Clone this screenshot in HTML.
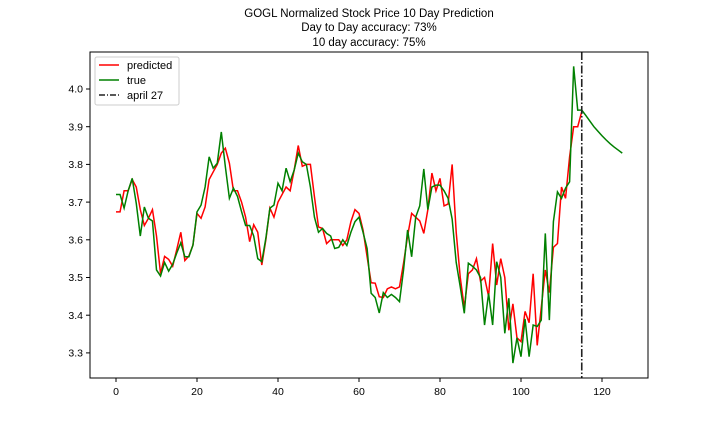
<!DOCTYPE html>
<html><head><meta charset="utf-8"><style>
body{margin:0;background:#fff;}
svg{display:block;font-family:"Liberation Sans","DejaVu Sans",sans-serif;}
</style></head><body>
<svg id="chart" width="720" height="432">
<text x="369" y="17" text-anchor="middle" font-size="11.5">GOGL Normalized Stock Price 10 Day Prediction</text>
<text x="369" y="31" text-anchor="middle" font-size="11.5">Day to Day accuracy: 73%</text>
<text x="369" y="46" text-anchor="middle" font-size="11.5">10 day accuracy: 75%</text>
<g id="ticks"></g>
<g id="plot"></g>
<rect x="90" y="52" width="558" height="326" fill="none" stroke="#000" stroke-width="1"/>
<g>
<rect x="95" y="57" width="84" height="48" rx="2" fill="#fff" stroke="#ccc"/>
<line x1="99" y1="65" x2="119" y2="65" stroke="red" stroke-width="1.5"/>
<text x="127" y="69" font-size="11">predicted</text>
<line x1="99" y1="80" x2="119" y2="80" stroke="green" stroke-width="1.5"/>
<text x="127" y="84" font-size="11">true</text>
<line x1="99" y1="95" x2="119" y2="95" stroke="#222" stroke-width="1.5" stroke-dasharray="6,2,1,2"/>
<text x="127" y="99" font-size="11">april 27</text>
</g>
</svg>
<script>
const trueVals=[3.72,3.72,3.684,3.73,3.763,3.697,3.61,3.687,3.657,3.65,3.52,3.504,3.54,3.517,3.535,3.565,3.592,3.555,3.555,3.586,3.674,3.692,3.74,3.82,3.79,3.803,3.886,3.794,3.71,3.737,3.715,3.675,3.638,3.638,3.61,3.55,3.542,3.604,3.684,3.692,3.75,3.73,3.79,3.754,3.785,3.83,3.807,3.80,3.74,3.66,3.62,3.63,3.617,3.61,3.577,3.58,3.60,3.585,3.62,3.648,3.66,3.62,3.577,3.458,3.447,3.406,3.46,3.447,3.455,3.447,3.436,3.52,3.626,3.555,3.66,3.69,3.788,3.68,3.74,3.745,3.745,3.73,3.71,3.655,3.54,3.475,3.405,3.538,3.53,3.52,3.50,3.374,3.458,3.374,3.542,3.50,3.352,3.445,3.273,3.34,3.29,3.39,3.29,3.374,3.37,3.387,3.617,3.387,3.648,3.727,3.71,3.737,3.754,4.06,3.944,3.944];
const predVals=[3.674,3.674,3.73,3.73,3.76,3.74,3.68,3.638,3.657,3.68,3.61,3.51,3.556,3.548,3.53,3.574,3.62,3.545,3.557,3.586,3.67,3.657,3.687,3.76,3.78,3.80,3.83,3.843,3.803,3.73,3.73,3.70,3.66,3.595,3.64,3.62,3.533,3.60,3.684,3.66,3.70,3.72,3.74,3.73,3.785,3.85,3.795,3.80,3.80,3.714,3.634,3.63,3.59,3.60,3.60,3.60,3.585,3.60,3.648,3.68,3.67,3.626,3.555,3.486,3.485,3.449,3.447,3.47,3.475,3.47,3.475,3.538,3.61,3.67,3.66,3.65,3.617,3.68,3.777,3.73,3.763,3.69,3.695,3.80,3.62,3.50,3.42,3.51,3.52,3.55,3.49,3.50,3.45,3.59,3.48,3.55,3.50,3.36,3.43,3.34,3.33,3.41,3.38,3.51,3.32,3.42,3.52,3.46,3.58,3.59,3.74,3.71,3.82,3.90,3.90,3.94];
const forecastVals=[3.944,3.93,3.915,3.90,3.888,3.876,3.865,3.855,3.846,3.838,3.83];
const forecastStart=115;
const markerX=115;
const xTicks=[0,20,40,60,80,100,120];
const yTicks=[3.3,3.4,3.5,3.6,3.7,3.8,3.9,4.0];
const NS="http://www.w3.org/2000/svg";
function sx(i){return 116+i*4.05;}
function sy(v){return 89+(4.0-v)*377;}
const plot=document.getElementById('plot'),ticks=document.getElementById('ticks');
function poly(vals,start,color,name){
  const p=document.createElementNS(NS,'polyline');
  p.setAttribute('points',vals.map((v,i)=>sx(start+i).toFixed(2)+','+sy(v).toFixed(2)).join(' '));
  p.setAttribute('fill','none');p.setAttribute('stroke',color);p.setAttribute('stroke-width','1.5');
  
  
  plot.appendChild(p);
}
poly(predVals,0,'red','predicted-line');
poly(trueVals,0,'green','true-line');
poly(forecastVals,forecastStart,'green','true-forecast-line');
const vl=document.createElementNS(NS,'line');
vl.setAttribute('x1',sx(markerX));vl.setAttribute('x2',sx(markerX));vl.setAttribute('y1',52);vl.setAttribute('y2',378);
vl.setAttribute('stroke','#222');vl.setAttribute('stroke-width','1.6');vl.setAttribute('stroke-dasharray','8,2,1.5,2');


plot.appendChild(vl);
xTicks.forEach(t=>{
  const l=document.createElementNS(NS,'line');
  l.setAttribute('x1',sx(t));l.setAttribute('x2',sx(t));l.setAttribute('y1',378);l.setAttribute('y2',382);l.setAttribute('stroke','#000');
  
  
  ticks.appendChild(l);
  const tx=document.createElementNS(NS,'text');
  tx.setAttribute('x',sx(t));tx.setAttribute('y',395);tx.setAttribute('text-anchor','middle');tx.setAttribute('font-size','10.5');
  tx.textContent=t;
  
  
  ticks.appendChild(tx);
});
yTicks.forEach(t=>{
  const l=document.createElementNS(NS,'line');
  l.setAttribute('x1',86);l.setAttribute('x2',90);l.setAttribute('y1',sy(t));l.setAttribute('y2',sy(t));l.setAttribute('stroke','#000');
  
  
  ticks.appendChild(l);
  const tx=document.createElementNS(NS,'text');
  tx.setAttribute('x',83);tx.setAttribute('y',sy(t)+3.7);tx.setAttribute('text-anchor','end');tx.setAttribute('font-size','10.5');
  tx.textContent=t.toFixed(1);
  
  
  ticks.appendChild(tx);
});
</script>
</body></html>
